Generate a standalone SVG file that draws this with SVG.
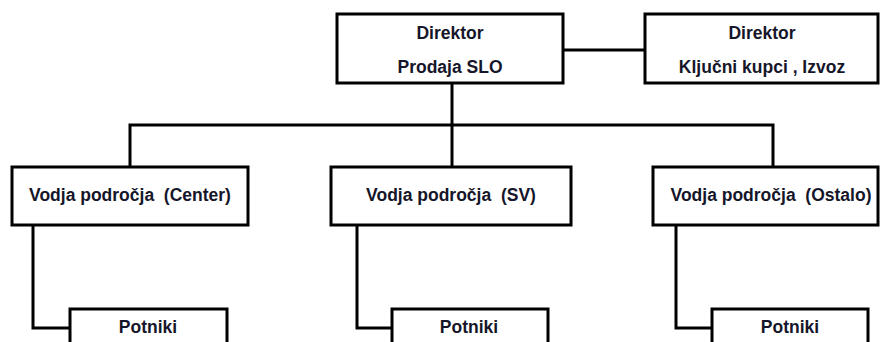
<svg xmlns="http://www.w3.org/2000/svg" width="880" height="342" viewBox="0 0 880 342">
  <style>
    .box { fill: #ffffff; stroke: #000000; stroke-width: 3; }
    .link { fill: none; stroke: #000000; stroke-width: 3; stroke-linejoin: miter; }
    .label { font-family: "Liberation Sans", Arial, sans-serif; font-weight: bold; font-size: 17.5px; fill: #16162a; text-anchor: middle; white-space: pre; }
  </style>
  <rect width="880" height="342" fill="#ffffff"/>

  <!-- connectors -->
  <g id="connectors">
    <path class="link" d="M563,50 H645"/>
    <path class="link" d="M452,83 V125"/>
    <path class="link" d="M130,167 V125 H773 V167"/>
    <path class="link" d="M452,125 V167"/>
    <path class="link" d="M33,225 V328 H70"/>
    <path class="link" d="M357,225 V328 H392"/>
    <path class="link" d="M676,225 V328 H712"/>
  </g>

  <!-- top level -->
  <g id="director-slo">
    <rect class="box" x="337" y="14" width="226" height="69"/>
    <text class="label" x="450" y="39">Direktor</text>
    <text class="label" x="450" y="73">Prodaja SLO</text>
  </g>
  <g id="director-key">
    <rect class="box" x="645" y="14" width="233" height="69"/>
    <text class="label" x="762" y="39">Direktor</text>
    <text class="label" x="762" y="73">Ključni kupci , Izvoz</text>
  </g>

  <!-- area managers -->
  <g id="area-center">
    <rect class="box" x="12" y="167" width="236" height="58"/>
    <text class="label" x="130" y="201">Vodja področja  (Center)</text>
  </g>
  <g id="area-sv">
    <rect class="box" x="331" y="167" width="240" height="58"/>
    <text class="label" x="451" y="201">Vodja področja  (SV)</text>
  </g>
  <g id="area-ostalo">
    <rect class="box" x="653" y="167" width="225" height="58"/>
    <text class="label" x="771" y="201">Vodja področja  (Ostalo)</text>
  </g>

  <!-- sales representatives -->
  <g id="potniki-center">
    <rect class="box" x="70" y="309" width="157" height="40"/>
    <text class="label" x="148" y="333">Potniki</text>
  </g>
  <g id="potniki-sv">
    <rect class="box" x="392" y="309" width="156" height="40"/>
    <text class="label" x="469" y="333">Potniki</text>
  </g>
  <g id="potniki-ostalo">
    <rect class="box" x="712" y="309" width="156" height="40"/>
    <text class="label" x="790" y="333">Potniki</text>
  </g>
</svg>
